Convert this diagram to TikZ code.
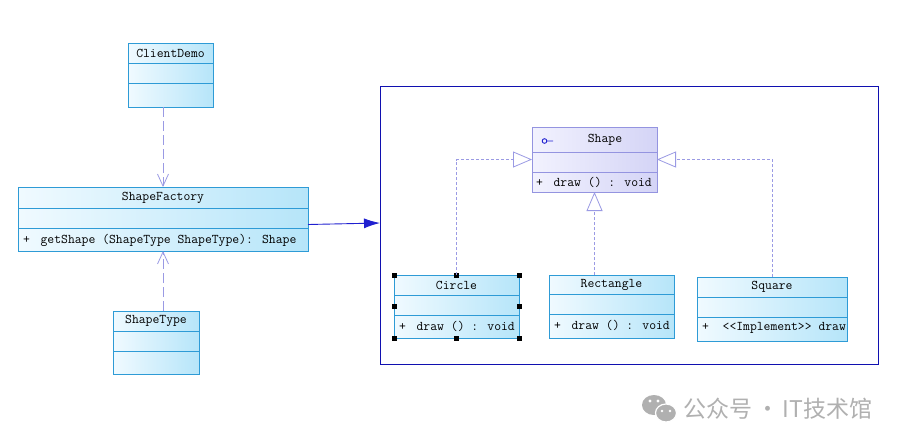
\documentclass[tikz,border=0pt]{standalone}
\usepackage{fontspec}
\newfontfamily\cjkfont{Noto Sans CJK SC}
\usetikzlibrary{arrows.meta,calc}
\definecolor{cB}{HTML}{2E9BD6}
\definecolor{cL}{HTML}{F0FAFF}
\definecolor{cD}{HTML}{B6E5F9}
\definecolor{iB}{HTML}{9494E0}
\definecolor{iL}{HTML}{F2F2FE}
\definecolor{iD}{HTML}{D4D4F6}
\definecolor{lnC}{HTML}{9A9AE4}
\definecolor{frC}{HTML}{1010B0}
\definecolor{arC}{HTML}{2020D0}
\definecolor{wmC}{HTML}{B0B0B0}
\newcommand\umlclass[9]{%
  \node[#1, minimum width={#5-#3}, minimum height={#6-#4}] (#2) at ({(#3+#5)/2},{(#4+#6)/2}) {};
  \draw[#1line] (#3,#7) -- (#5,#7) (#3,#8) -- (#5,#8);
  \node[txt] (#2-t) at ({(#3+#5)/2},{(#4+#7)/2}) {#9};
}
\newcommand\umlop[4]{%
  \node[txt, anchor=west] (#1-op) at (#2,#3) {+\hspace{10.6pt}#4};
}
\begin{document}
\begin{tikzpicture}[x=1pt,y=-1pt,
  cbox/.style={shape=rectangle, draw=cB, line width=0.9pt, left color=cL, right color=cD, inner sep=0pt, outer sep=0pt},
  cboxline/.style={draw=cB, line width=0.9pt},
  ibox/.style={shape=rectangle, draw=iB, line width=0.9pt, left color=iL, right color=iD, inner sep=0pt, outer sep=0pt},
  iboxline/.style={draw=iB, line width=0.9pt},
  txt/.style={font=\ttfamily\fontsize{13.3}{15}\selectfont, inner sep=0pt, text=black},
  dep/.style={draw=lnC, line width=0.8pt, dash pattern=on 10pt off 4pt, -{Straight Barb[length=12pt,width=11pt,line width=0.8pt]}},
  real/.style={draw=lnC, line width=0.8pt, dash pattern=on 3pt off 2pt, -{Triangle[length=19pt,width=16pt,fill=white,line width=0.8pt]}},
  assoc/.style={draw=arC, line width=0.9pt, -{Latex[length=16pt,width=10pt]}},
  handle/.style={fill=black, draw=none, minimum size=5pt, inner sep=0pt, shape=rectangle},
  frame/.style={draw=frC, line width=1pt, inner sep=0pt, outer sep=0pt, shape=rectangle}
]
\useasboundingbox (0,0) rectangle (907,445);
\fill[white] (0,0) rectangle (907,445);

% frame
\node[frame, minimum width=498pt, minimum height=278pt] (fr) at (629,225) {};

% classes
\umlclass{cbox}{cd}{128}{43}{213}{107}{63}{83}{ClientDemo}
\umlclass{cbox}{sf}{18}{187}{308}{251}{208}{228}{ShapeFactory}
\umlop{sf}{23}{240}{getShape (ShapeType ShapeType): Shape}
\umlclass{cbox}{st}{113}{311}{199}{374}{331}{351}{ShapeType}

\node[ibox, minimum width=125pt, minimum height=65pt] (sh) at (594.5,159.5) {};
\draw[iboxline] (532,152) -- (657,152) (532,172) -- (657,172);
\node[txt] (sh-t) at (605,140) {Shape};
\umlop{sh}{536}{182}{draw () : void}
\draw[draw=arC, line width=0.9pt] (544.5,141) circle (2.3pt) (546.8,141) -- (553,141);

\umlclass{cbox}{ci}{394}{275}{519}{338}{295}{315}{Circle}
\umlop{ci}{399}{326}{draw () : void}
\umlclass{cbox}{re}{549}{275}{674}{338}{294}{314}{Rectangle}
\umlop{re}{554}{325}{draw () : void}
\umlclass{cbox}{sq}{697}{277}{847}{341}{297}{317}{Square}
\begin{scope}
\clip (697,317) rectangle (846.5,341);
\umlop{sq}{702}{328}{\hspace{3pt}<\kern0pt<Implement>\kern0pt> draw}
\end{scope}

% selection handles of Circle
\foreach \p/\n in {north west/a, north/b, north east/c, west/d, east/e, south west/f, south/g, south east/h}
  \node[handle] (hd-\n) at (ci.\p) {};

% connectors
\draw[dep] ([xshift=-7.5pt]cd.south) -- ([xshift=-7.5pt]cd.south |- sf.north);
\draw[dep] ([xshift=7pt]st.north) -- ([xshift=7pt]st.north |- sf.south);
\draw[assoc] ([yshift=-5.5pt]sf.east) -- ([yshift=2pt]fr.west);
\draw[real] (ci.north) |- (sh.west);
\draw[real] (sh.south |- re.north) -- (sh.south);
\draw[real] (sq.north) |- (sh.east);

% watermark
\fill[wmC] (654,405) ellipse (12pt and 10pt);
\fill[wmC, draw=white, line width=1.2pt] (666,413) ellipse (10.5pt and 9pt);
\fill[white] (650,401) circle (1.6pt) (658,401) circle (1.6pt) (662,411) circle (1.4pt) (670,411) circle (1.4pt);
\node[font=\cjkfont\fontsize{23}{26}\selectfont, text=wmC, anchor=west, inner sep=0pt] (wm) at (683,409) {公众号\,·\,IT技术馆};
\end{tikzpicture}
\end{document}
